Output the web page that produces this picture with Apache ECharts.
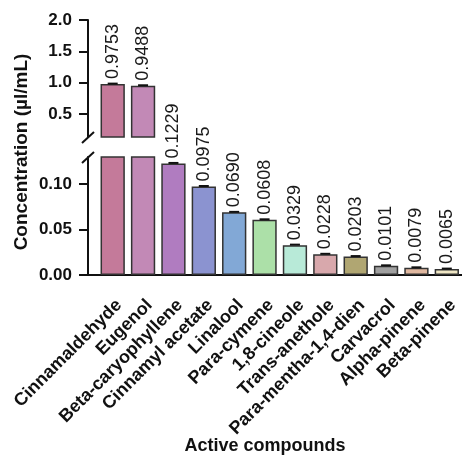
<!DOCTYPE html>
<html>
<head>
<meta charset="utf-8">
<script src="https://cdn.jsdelivr.net/npm/echarts@6/dist/echarts.min.js"></script>
<style>
  html, body { margin: 0; padding: 0; background: #fff; }
  #chart { width: 462px; height: 455px; }
</style>
</head>
<body>
<div id="chart"></div>
<script>
// data
var compounds = ['Cinnamaldehyde', 'Eugenol', 'Beta-caryophyllene', 'Cinnamyl acetate', 'Linalool',
  'Para-cymene', '1,8-cineole', 'Trans-anethole', 'Para-mentha-1,4-dien', 'Carvacrol', 'Alpha-pinene', 'Beta-pinene'];
var concentration = [0.9753, 0.9488, 0.1229, 0.0975, 0.0690, 0.0608, 0.0329, 0.0228, 0.0203, 0.0101, 0.0079, 0.0065];
var barColors = ['#c47a9a', '#c289b6', '#b07cc0', '#8b93d0', '#82a8d6', '#ace0a8',
  '#b8ead8', '#d8a8ac', '#b0a672', '#a0a0a0', '#e0b8a0', '#efe6c4'];
var upperTicks = [0.5, 1.0, 1.5, 2.0];
var lowerTicks = [0, 0.05, 0.10];
var breakAt = 0.13;

var font = 'Liberation Sans, Arial, sans-serif';

var barData = concentration.map(function (v, i) {
  return { value: v, itemStyle: { color: barColors[i] } };
});

function valueLabel(show) {
  return {
    show: true,
    position: 'top',
    rotate: 90,
    align: 'left',
    verticalAlign: 'middle',
    distance: 5,
    fontSize: 18,
    fontFamily: font,
    color: '#1a1a1a',
    formatter: function (p) { return show(p.value) ? p.value.toFixed(4) : ''; }
  };
}

// small error caps on top of the bars
function capSeries(idx, inRange) {
  return {
    type: 'custom',
    xAxisIndex: idx,
    yAxisIndex: idx,
    data: concentration.map(function (v, i) { return [i, v]; }),
    z: 5,
    renderItem: function (params, api) {
      var v = api.value(1);
      if (!inRange(v)) return;
      var p = api.coord([api.value(0), v]);
      return {
        type: 'line',
        shape: { x1: p[0] - 5, y1: p[1] - 0.5, x2: p[0] + 5, y2: p[1] - 0.5 },
        style: { stroke: '#111', lineWidth: 2 }
      };
    }
  };
}

var axisLineStyle = { color: '#111', width: 2 };

var option = {
  animation: false,
  grid: [
    { left: 97.5, right: 0, top: 20, height: 117 },
    { left: 97.5, right: 0, top: 157, height: 118 }
  ],
  xAxis: [
    { type: 'category', gridIndex: 0, data: compounds, show: false },
    {
      type: 'category', gridIndex: 1, data: compounds,
      axisLine: { lineStyle: axisLineStyle },
      axisTick: { alignWithLabel: true, length: 8, lineStyle: { color: '#111', width: 2 } },
      axisLabel: {
        interval: 0, rotate: 45, margin: 21, verticalAlign: 'top',
        fontSize: 18, fontWeight: 'bold', fontFamily: font, color: '#111'
      }
    }
  ],
  yAxis: [
    {
      type: 'value', gridIndex: 0, min: breakAt, max: 2.0, offset: 9.5,
      splitLine: { show: false },
      axisLine: { show: true, lineStyle: axisLineStyle },
      axisTick: { show: true, length: 9, customValues: upperTicks, lineStyle: { color: '#111', width: 2 } },
      axisLabel: {
        customValues: upperTicks, margin: 16,
        fontSize: 17, fontWeight: 'bold', fontFamily: font, color: '#111',
        formatter: function (v) { return v.toFixed(1); }
      }
    },
    {
      type: 'value', gridIndex: 1, min: 0, max: breakAt, offset: 9.5,
      splitLine: { show: false },
      axisLine: { show: true, lineStyle: axisLineStyle },
      axisTick: { show: true, length: 9, customValues: lowerTicks, lineStyle: { color: '#111', width: 2 } },
      axisLabel: {
        customValues: lowerTicks, margin: 16,
        fontSize: 17, fontWeight: 'bold', fontFamily: font, color: '#111',
        formatter: function (v) { return v.toFixed(2); }
      }
    }
  ],
  series: [
    {
      type: 'bar', xAxisIndex: 0, yAxisIndex: 0, data: barData,
      barCategoryGap: '20%', clip: true,
      itemStyle: { borderColor: '#333', borderWidth: 1.5 },
      label: valueLabel(function (v) { return v > breakAt; })
    },
    {
      type: 'bar', xAxisIndex: 1, yAxisIndex: 1, data: barData,
      barCategoryGap: '20%', clip: true,
      itemStyle: { borderColor: '#333', borderWidth: 1.5 },
      label: valueLabel(function (v) { return v <= breakAt; })
    },
    capSeries(0, function (v) { return v > breakAt; }),
    capSeries(1, function (v) { return v <= breakAt; })
  ],
  graphic: [
    // y axis name spans both panels
    {
      type: 'text', x: 22, y: 152, rotation: Math.PI / 2,
      style: {
        text: 'Concentration (µl/mL)', align: 'center', verticalAlign: 'middle',
        font: 'bold 19px ' + font, fill: '#111'
      }
    },
    {
      type: 'text', x: 265, y: 446,
      style: {
        text: 'Active compounds', align: 'center', verticalAlign: 'middle',
        font: 'bold 18px ' + font, fill: '#111'
      }
    },
    // axis break marks
    { type: 'line', shape: { x1: 82, y1: 143, x2: 94, y2: 132 }, style: { stroke: '#111', lineWidth: 2 } },
    { type: 'line', shape: { x1: 82, y1: 163, x2: 94, y2: 152 }, style: { stroke: '#111', lineWidth: 2 } },
    // x axis line continues to the y axis
    { type: 'line', shape: { x1: 87, y1: 275, x2: 98, y2: 275 }, style: { stroke: '#111', lineWidth: 2 } }
  ]
};

var myChart = echarts.init(document.getElementById('chart'));
myChart.setOption(option);
</script>
</body>
</html>
